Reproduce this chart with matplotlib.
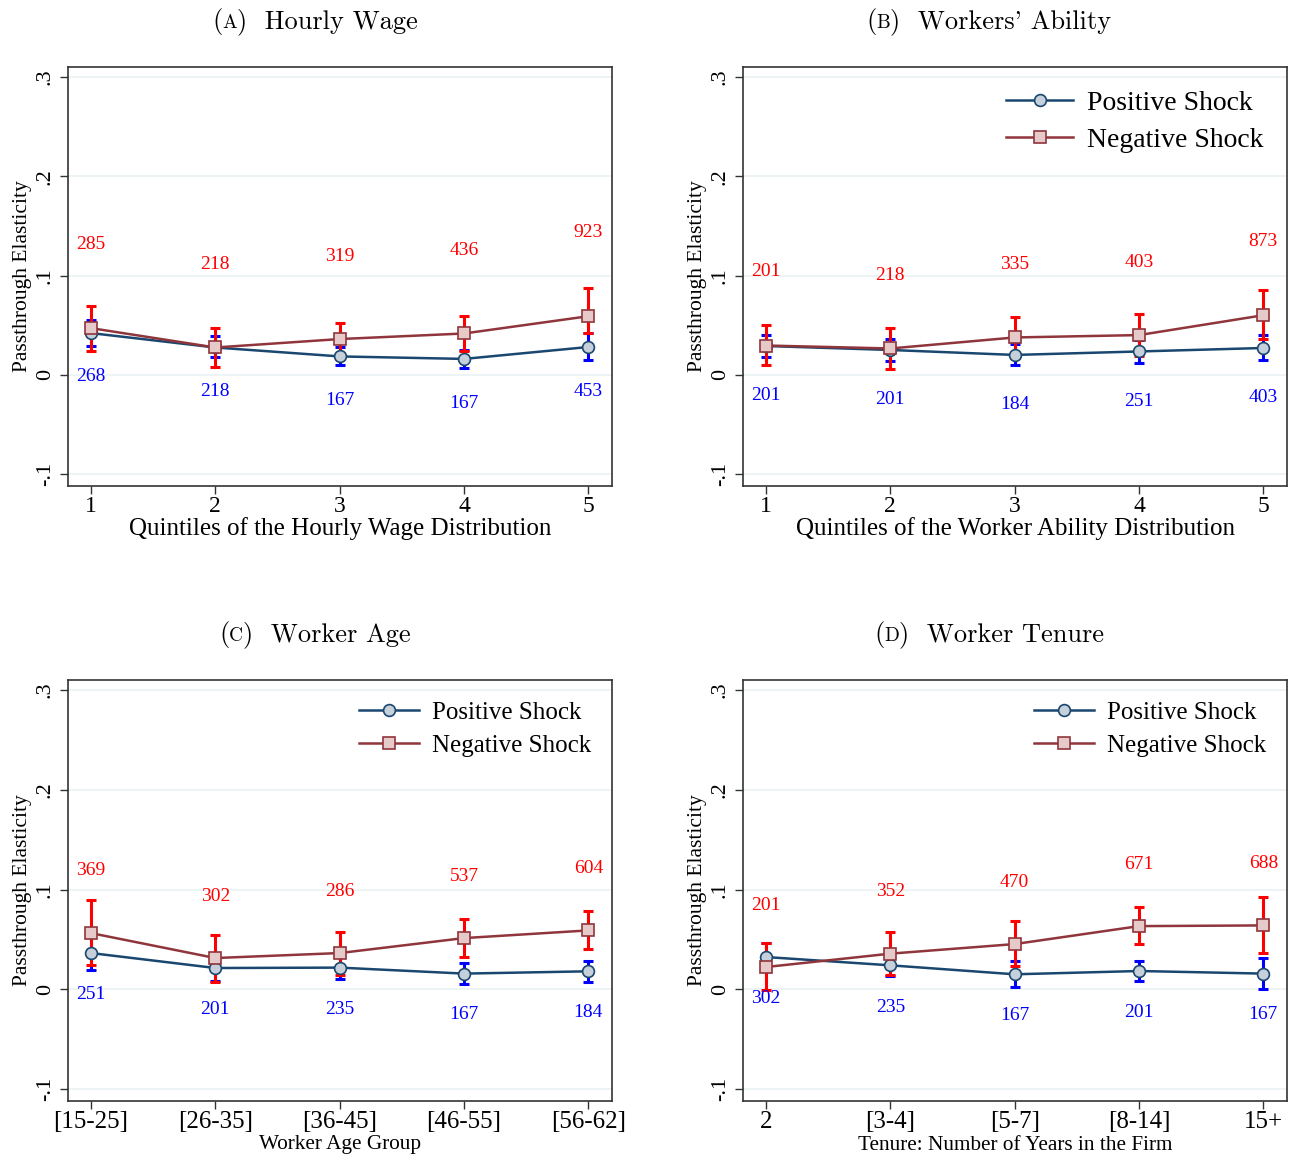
import numpy as np
import matplotlib
matplotlib.use('Agg')
import matplotlib.pyplot as plt

plt.rcParams['font.family'] = ['Liberation Serif', 'DejaVu Serif']

# ------------------------------------------------------------
# Data (passthrough elasticities + CIs)
# ------------------------------------------------------------
x = [1, 2, 3, 4, 5]

# (A) Hourly wage
a_pos = [0.042, 0.0275, 0.0185, 0.016, 0.028]
a_pos_lo = [0.0295, 0.018, 0.0094, 0.0064, 0.0151]
a_pos_hi = [0.055, 0.0386, 0.028, 0.025, 0.0416]
a_neg = [0.047, 0.0275, 0.036, 0.0416, 0.059]
a_neg_lo = [0.024, 0.008, 0.020, 0.024, 0.042]
a_neg_hi = [0.0695, 0.0467, 0.052, 0.0597, 0.0876]
a_n_neg = ['285', '218', '319', '436', '923']
a_n_pos = ['268', '218', '167', '167', '453']
a_ny_neg = [0.133, 0.113, 0.121, 0.127, 0.145]
a_ny_pos = [0.0, -0.015, -0.024, -0.027, -0.015]

# (B) Workers' ability
b_pos = [0.029, 0.025, 0.020, 0.0235, 0.027]
b_pos_lo = [0.018, 0.0134, 0.0094, 0.0118, 0.0144]
b_pos_hi = [0.040, 0.036, 0.031, 0.035, 0.0396]
b_neg = [0.0295, 0.0265, 0.0376, 0.040, 0.060]
b_neg_lo = [0.010, 0.0057, 0.017, 0.019, 0.036]
b_neg_hi = [0.050, 0.047, 0.058, 0.061, 0.0856]
b_n_neg = ['201', '218', '335', '403', '873']
b_n_pos = ['201', '201', '184', '251', '403']
b_ny_neg = [0.106, 0.102, 0.113, 0.115, 0.136]
b_ny_pos = [-0.019, -0.023, -0.028, -0.025, -0.021]

# (C) Worker age
c_pos = [0.0363, 0.0213, 0.0217, 0.0157, 0.018]
c_pos_lo = [0.019, 0.008, 0.010, 0.005, 0.0073]
c_pos_hi = [0.054, 0.034, 0.033, 0.026, 0.0287]
c_neg = [0.0563, 0.0313, 0.0363, 0.0513, 0.059]
c_neg_lo = [0.024, 0.0073, 0.0147, 0.0323, 0.040]
c_neg_hi = [0.089, 0.0547, 0.0573, 0.070, 0.078]
c_n_neg = ['369', '302', '286', '537', '604']
c_n_pos = ['251', '201', '235', '167', '184']
c_ny_neg = [0.121, 0.095, 0.100, 0.115, 0.123]
c_ny_pos = [-0.003, -0.018, -0.018, -0.023, -0.021]

# (D) Worker tenure
d_pos = [0.0323, 0.024, 0.015, 0.0183, 0.0157]
d_pos_lo = [0.018, 0.0137, 0.002, 0.008, 0.0003]
d_pos_hi = [0.046, 0.034, 0.0287, 0.0287, 0.0313]
d_neg = [0.0223, 0.0357, 0.0453, 0.0633, 0.064]
d_neg_lo = [-0.001, 0.014, 0.023, 0.045, 0.0363]
d_neg_hi = [0.046, 0.0573, 0.068, 0.082, 0.092]
d_n_neg = ['201', '352', '470', '671', '688']
d_n_pos = ['302', '235', '167', '201', '167']
d_ny_neg = [0.086, 0.100, 0.109, 0.127, 0.128]
d_ny_pos = [-0.007, -0.016, -0.024, -0.021, -0.023]

quint_labels = ['1', '2', '3', '4', '5']
age_labels = ['[15-25]', '[26-35]', '[36-45]', '[46-55]', '[56-62]']
tenure_labels = ['2', '[3-4]', '[5-7]', '[8-14]', '15+']

NAVY = '#1a476f'
NAVY_FACE = '#c6d0da'
MAROON = '#90353b'
MAROON_FACE = '#e6c9c9'


def panel(ax, pos, pos_lo, pos_hi, neg, neg_lo, neg_hi,
          n_pos, ny_pos, n_neg, ny_neg, legend_size=None):
    for yv in [-0.1, 0, 0.1, 0.2, 0.3]:
        ax.axhline(yv, color='#eaf2f3', lw=1.2, zorder=0)
    pos = np.array(pos)
    neg = np.array(neg)
    ax.errorbar(x, pos, yerr=[pos - np.array(pos_lo), np.array(pos_hi) - pos],
                fmt='none', ecolor='#0000ff', elinewidth=2.2, capsize=3.8,
                capthick=2.2, zorder=2)
    ax.errorbar(x, neg, yerr=[neg - np.array(neg_lo), np.array(neg_hi) - neg],
                fmt='none', ecolor='#ff0000', elinewidth=2.2, capsize=3.8,
                capthick=2.2, zorder=2)
    ax.plot(x, pos, color=NAVY, lw=1.8, marker='o', ms=8.5,
            mfc=NAVY_FACE, mec=NAVY, mew=1.2, zorder=3, label='Positive Shock')
    ax.plot(x, neg, color=MAROON, lw=1.8, marker='s', ms=8.5,
            mfc=MAROON_FACE, mec=MAROON, mew=1.2, zorder=4, label='Negative Shock')
    for xi, t, yv in zip(x, n_neg, ny_neg):
        ax.text(xi, yv, t, color='#ff0000', fontsize=14, ha='center',
                va='center_baseline')
    for xi, t, yv in zip(x, n_pos, ny_pos):
        ax.text(xi, yv, t, color='#0000ff', fontsize=14, ha='center',
                va='center_baseline')

    ax.set_xlim(0.815, 5.19)
    ax.set_ylim(-0.112, 0.31)
    ax.set_yticks([-0.1, 0, 0.1, 0.2, 0.3])
    ax.set_yticklabels(['-.1', '0', '.1', '.2', '.3'], rotation=90, va='center',
                       fontsize=16)
    ax.set_ylabel('Passthrough Elasticity', fontsize=15.5, labelpad=3)
    ax.tick_params(axis='both', direction='out', length=6, width=1,
                   color='#333333')
    for s in ax.spines.values():
        s.set_color('#333333')
        s.set_linewidth(1.2)
    if legend_size:
        ax.legend(loc='upper right', frameon=False, fontsize=legend_size,
                  handlelength=2.4, borderaxespad=0.45, labelspacing=0.42,
                  handletextpad=0.5)


fig = plt.figure(figsize=(12.98, 11.59), dpi=100)
W, H = 1298, 1159
axA = fig.add_axes([68 / W, 1 - 486 / H, 544 / W, 419 / H])
axB = fig.add_axes([743 / W, 1 - 486 / H, 544 / W, 419 / H])
axC = fig.add_axes([68 / W, 1 - 1101 / H, 544 / W, 421 / H])
axD = fig.add_axes([743 / W, 1 - 1101 / H, 544 / W, 421 / H])

panel(axA, a_pos, a_pos_lo, a_pos_hi, a_neg, a_neg_lo, a_neg_hi,
      a_n_pos, a_ny_pos, a_n_neg, a_ny_neg)
panel(axB, b_pos, b_pos_lo, b_pos_hi, b_neg, b_neg_lo, b_neg_hi,
      b_n_pos, b_ny_pos, b_n_neg, b_ny_neg, legend_size=20)
panel(axC, c_pos, c_pos_lo, c_pos_hi, c_neg, c_neg_lo, c_neg_hi,
      c_n_pos, c_ny_pos, c_n_neg, c_ny_neg, legend_size=18)
panel(axD, d_pos, d_pos_lo, d_pos_hi, d_neg, d_neg_lo, d_neg_hi,
      d_n_pos, d_ny_pos, d_n_neg, d_ny_neg, legend_size=18)

for ax in [axA, axB]:
    ax.set_xticks(x)
    ax.set_xticklabels(quint_labels, fontsize=17)
    ax.tick_params(axis='x', pad=1)
axA.set_xlabel('Quintiles of the Hourly Wage Distribution', fontsize=18,
               labelpad=0)
axB.set_xlabel('Quintiles of the Worker Ability Distribution', fontsize=18,
               labelpad=0)

axC.set_xticks(x)
axC.set_xticklabels(age_labels, fontsize=18)
axD.set_xticks(x)
axD.set_xticklabels(tenure_labels, fontsize=18)
for ax in [axC, axD]:
    ax.tick_params(axis='x', pad=1)
axC.set_xlabel('Worker Age Group', fontsize=15.3, labelpad=2)
axD.set_xlabel('Tenure: Number of Years in the Firm', fontsize=15.3, labelpad=2)

# panel titles in Computer Modern with a small-caps letter
titles = [(315, 28, 'A', 'Hourly Wage'),
          (989, 28, 'B', "Workers' Ability"),
          (315, 641, 'C', 'Worker Age'),
          (989, 641, 'D', 'Worker Tenure')]
fig.canvas.draw()
rend = fig.canvas.get_renderer()
for cx, by, letter, rest in titles:
    pieces = [('(', 19), (letter, 14), (')  ' + rest, 19)]
    objs = []
    for s, fs in pieces:
        t = fig.text(0, 1 - by / H, s, fontsize=fs, family='cmr10',
                     ha='left', va='baseline')
        objs.append(t)
    widths = [o.get_window_extent(rend).width for o in objs]
    left = cx - sum(widths) / 2
    for o, w in zip(objs, widths):
        o.set_x(left / W)
        left += w

fig.savefig('out.png', dpi=100)
